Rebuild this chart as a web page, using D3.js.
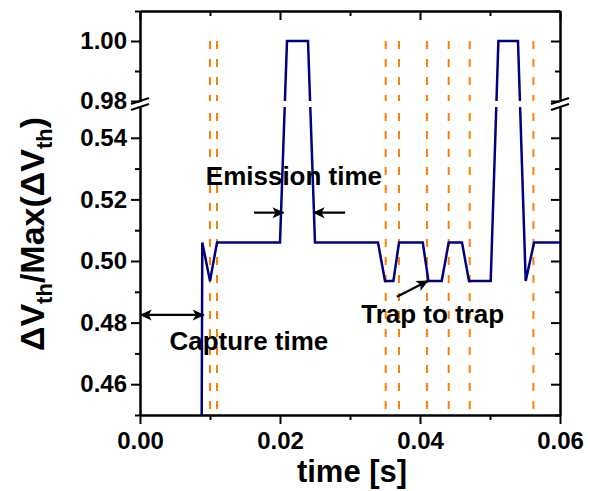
<!DOCTYPE html>
<html>
<head>
<meta charset="utf-8">
<script src="https://cdn.jsdelivr.net/npm/d3@7/dist/d3.min.js"></script>
<style>
  body { margin: 0; background: #fff; }
  text { font-family: "Liberation Sans", Arial, sans-serif; font-weight: bold; fill: #000; }
</style>
</head>
<body>
<svg id="chart" width="590" height="491"></svg>
<script>
// trace
var times  = [0.0088, 0.0089, 0.0100, 0.0110, 0.0200, 0.0210, 0.0240, 0.0250, 0.0340, 0.0350, 0.0362, 0.0370,
              0.0404, 0.0412, 0.0431, 0.0441, 0.0460, 0.0470, 0.0501, 0.0512, 0.0540, 0.0551, 0.0563, 0.0600];
var values = [0.44, 0.506, 0.4935, 0.506, 0.506, 1.00, 1.00, 0.506, 0.506, 0.4935, 0.4935, 0.506,
              0.506, 0.4935, 0.4935, 0.506, 0.506, 0.4935, 0.4935, 1.00, 1.00, 0.4935, 0.506, 0.506];
// orange dashed markers
var eventTimes = [0.0100, 0.0110, 0.0351, 0.0370, 0.0410, 0.0441, 0.0471, 0.0562];

var xTicks = [0, 0.02, 0.04, 0.06];
var xMinor = [0.01, 0.03, 0.05];
var yLowTicks = [0.46, 0.48, 0.50, 0.52, 0.54];
var yLowMinor = [0.45, 0.47, 0.49, 0.51, 0.53];
var yHighTicks = [0.98, 1.00];
var yHighMinor = [0.99, 1.01];

var svg = d3.select('#chart');

// plot box (names avoid window.top etc.)
var pLeft = 140, pRight = 560, pTop = 11, pBottom = 415;
var breakLo = 107, breakHi = 101;   // screen y where the two panels end

var x = d3.scaleLinear().domain([0, 0.06]).range([pLeft, pRight]);
var yLow = d3.scaleLinear().domain([0.45, 0.55]).range([pBottom, breakLo]);
var yHigh = d3.scaleLinear().domain([0.98, 1.01]).range([breakHi, pTop]);
// broken axis as one piecewise scale, lines are straight in screen space
var y = d3.scaleLinear().domain([0.45, 0.55, 0.98, 1.01]).range([pBottom, breakLo, breakHi, pTop]);

var defs = svg.append('defs');
var clip = defs.append('clipPath').attr('id', 'plotclip');
clip.append('rect').attr('x', pLeft).attr('y', pTop).attr('width', pRight - pLeft).attr('height', breakHi - pTop);
clip.append('rect').attr('x', pLeft).attr('y', breakLo).attr('width', pRight - pLeft).attr('height', pBottom - breakLo);

defs.append('marker')
  .attr('id', 'head')
  .attr('markerUnits', 'userSpaceOnUse')
  .attr('viewBox', '-12 -6 14 12')
  .attr('markerWidth', 14).attr('markerHeight', 12)
  .attr('refX', 0).attr('refY', 0)
  .attr('orient', 'auto-start-reverse')
  .append('path')
  .attr('d', 'M1,0 L-11,-5.5 L-8,0 L-11,5.5 Z')
  .attr('fill', '#000');

var plot = svg.append('g').attr('clip-path', 'url(#plotclip)');

// dashed event lines
plot.selectAll('line.ev')
  .data(eventTimes)
  .enter().append('line')
  .attr('class', 'ev')
  .attr('x1', d => x(d)).attr('x2', d => x(d))
  .attr('y1', y(1.0)).attr('y2', pBottom)
  .attr('stroke', '#ff8000')
  .attr('stroke-width', 2)
  .attr('stroke-dasharray', '8,10');

var pts = times.map((t, i) => [t, values[i]]);
var line = d3.line().x(d => x(d[0])).y(d => y(d[1]));
plot.append('path')
  .datum(pts)
  .attr('d', line)
  .attr('fill', 'none')
  .attr('stroke', '#000080')
  .attr('stroke-width', 2.5)
  .attr('stroke-linejoin', 'miter');

// axes
function styleAxis(g) {
  g.selectAll('path.domain').attr('stroke', '#000').attr('stroke-width', 2);
  g.selectAll('.tick line').attr('stroke', '#000').attr('stroke-width', 2);
  g.selectAll('.tick text').style('font-size', '24px').style('font-weight', 'bold')
    .style('font-family', '"Liberation Sans", Arial, sans-serif').attr('fill', '#000');
}
var fmt = d3.format('.2f');

// bottom
svg.append('g').attr('transform', `translate(0,${pBottom})`)
  .call(d3.axisBottom(x).tickValues(xMinor).tickSize(5).tickSizeOuter(0).tickFormat(''))
  .call(styleAxis);
svg.append('g').attr('transform', `translate(0,${pBottom})`)
  .call(d3.axisBottom(x).tickValues(xTicks).tickSize(9).tickSizeOuter(0).tickPadding(8).tickFormat(fmt))
  .call(styleAxis);
// top
svg.append('g').attr('transform', `translate(0,${pTop})`)
  .call(d3.axisTop(x).tickValues(xMinor).tickSize(-5).tickSizeOuter(0).tickFormat(''))
  .call(styleAxis);
svg.append('g').attr('transform', `translate(0,${pTop})`)
  .call(d3.axisTop(x).tickValues(xTicks).tickSize(-9).tickSizeOuter(0).tickFormat(''))
  .call(styleAxis);

[[yLow, yLowTicks, yLowMinor], [yHigh, yHighTicks, yHighMinor]].forEach(function (p) {
  svg.append('g').attr('transform', `translate(${pLeft},0)`)
    .call(d3.axisLeft(p[0]).tickValues(p[2]).tickSize(5).tickSizeOuter(0).tickFormat(''))
    .call(styleAxis);
  svg.append('g').attr('transform', `translate(${pLeft},0)`)
    .call(d3.axisLeft(p[0]).tickValues(p[1]).tickSize(9).tickSizeOuter(0).tickPadding(4).tickFormat(fmt))
    .call(styleAxis);
  svg.append('g').attr('transform', `translate(${pRight},0)`)
    .call(d3.axisRight(p[0]).tickValues(p[2]).tickSize(-5).tickSizeOuter(0).tickFormat(''))
    .call(styleAxis);
  svg.append('g').attr('transform', `translate(${pRight},0)`)
    .call(d3.axisRight(p[0]).tickValues(p[1]).tickSize(-9).tickSizeOuter(0).tickFormat(''))
    .call(styleAxis);
});

// break marks
[pLeft, pRight].forEach(function (ax) {
  [breakHi, breakLo].forEach(function (cy) {
    svg.append('line')
      .attr('x1', ax - 9).attr('y1', cy + 3)
      .attr('x2', ax + 9).attr('y2', cy - 3)
      .attr('stroke', '#000').attr('stroke-width', 2);
  });
});

// axis titles
svg.append('text')
  .attr('x', 352).attr('y', 482)
  .attr('text-anchor', 'middle')
  .style('font-size', '31px')
  .text('time [s]');

var yt = svg.append('text')
  .attr('transform', 'translate(44,234) rotate(-90)')
  .attr('text-anchor', 'middle')
  .style('font-size', '34px');
yt.append('tspan').text('ΔV');
yt.append('tspan').attr('dy', 8).style('font-size', '22px').text('th');
yt.append('tspan').attr('dy', -8).text('/Max(ΔV');
yt.append('tspan').attr('dy', 8).style('font-size', '22px').text('th');
yt.append('tspan').attr('dy', -8).text(')');

// annotations
var notes = [
  { t: 0.0094, v: 0.5247, label: 'Emission time' },
  { t: 0.0042, v: 0.4711, label: 'Capture time' },
  { t: 0.0316, v: 0.4800, label: 'Trap to trap' }
];
svg.selectAll('text.note')
  .data(notes)
  .enter().append('text')
  .attr('class', 'note')
  .attr('x', d => x(d.t)).attr('y', d => y(d.v))
  .style('font-size', '26px')
  .text(d => d.label);

var arrows = [
  { t0: 0.0163, v0: 0.5157, t1: 0.0205, v1: 0.5157, both: false },
  { t0: 0.0293, v0: 0.5157, t1: 0.0248, v1: 0.5157, both: false },
  { t0: 0.0001, v0: 0.4825, t1: 0.0091, v1: 0.4825, both: true },
  { t0: 0.0367, v0: 0.4884, t1: 0.0411, v1: 0.4935, both: false }
];
svg.selectAll('line.arrow')
  .data(arrows)
  .enter().append('line')
  .attr('class', 'arrow')
  .attr('x1', d => x(d.t0)).attr('y1', d => y(d.v0))
  .attr('x2', d => x(d.t1)).attr('y2', d => y(d.v1))
  .attr('stroke', '#000').attr('stroke-width', 2.2)
  .attr('marker-end', 'url(#head)')
  .attr('marker-start', d => d.both ? 'url(#head)' : null);
</script>
</body>
</html>
